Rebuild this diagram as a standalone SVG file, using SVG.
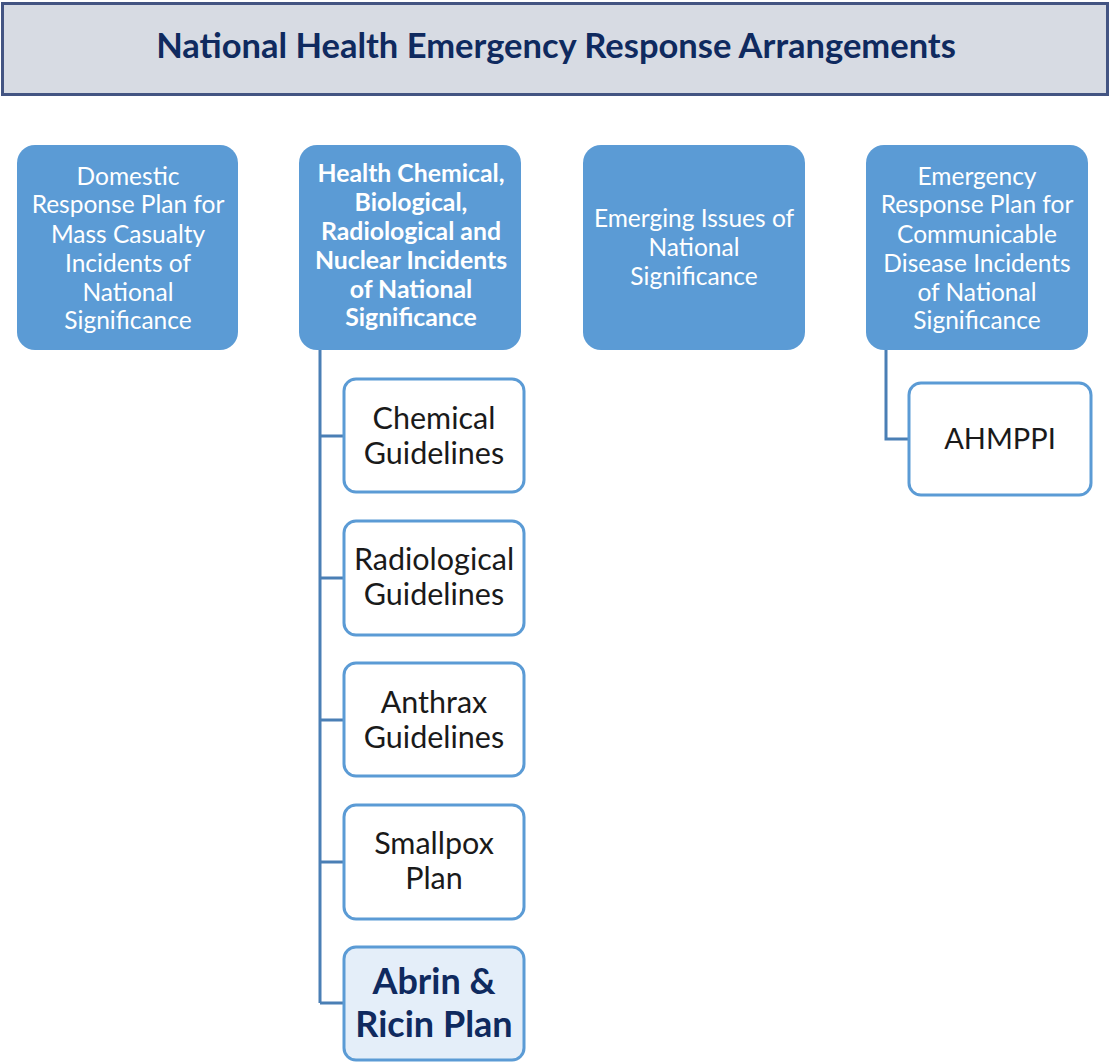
<svg xmlns="http://www.w3.org/2000/svg" width="1110" height="1062" viewBox="0 0 1110 1062">
  <style>
    .top { fill: #5b9bd5; }
    .topText { font-family: Lato, "Open Sans", sans-serif; font-size: 24.5px; fill: #ffffff; text-anchor: middle; }
    .bold { font-weight: bold; font-size: 24.8px; }
    .child { fill: #ffffff; stroke: #5b9bd5; stroke-width: 3; }
    .childText { font-family: Lato, "Open Sans", sans-serif; font-size: 30.5px; fill: #1a1a1a; text-anchor: middle; }
    .emph { font-size: 36px; font-weight: bold; fill: #0f2a5f; }
    .link { fill: none; stroke: #4a7fb5; stroke-width: 3; }
  </style>
  <rect width="1110" height="1062" fill="#ffffff"/>

  <g id="title">
    <rect x="2.5" y="3.5" width="1105" height="91" fill="#d7dbe3" stroke="#435482" stroke-width="3"/>
    <text x="556" y="58" font-family="Lato, 'Open Sans', sans-serif" font-size="34.5" font-weight="bold" fill="#0f2a5f" text-anchor="middle">National Health Emergency Response Arrangements</text>
  </g>

  <g id="connectors">
    <path class="link" d="M320,350 V1003 M320,436 H344 M320,578 H344 M320,720 H344 M320,862 H344 M320,1003 H344"/>
    <path class="link" d="M886,350 V439 H909"/>
  </g>

  <g id="domestic-plan">
    <rect class="top" x="17" y="145" width="221" height="205" rx="18"/>
    <text class="topText" x="128" y="185">Domestic</text>
    <text class="topText" x="128" y="213">Response Plan for</text>
    <text class="topText" x="128" y="243">Mass Casualty</text>
    <text class="topText" x="128" y="272">Incidents of</text>
    <text class="topText" x="128" y="301">National</text>
    <text class="topText" x="128" y="329">Significance</text>
  </g>

  <g id="cbrn-plan">
    <rect class="top" x="299" y="145" width="222" height="205" rx="18"/>
    <text class="topText bold" x="411" y="182">Health Chemical,</text>
    <text class="topText bold" x="411" y="211">Biological,</text>
    <text class="topText bold" x="411" y="240">Radiological and</text>
    <text class="topText bold" x="411" y="269">Nuclear Incidents</text>
    <text class="topText bold" x="411" y="298">of National</text>
    <text class="topText bold" x="411" y="326">Significance</text>
  </g>

  <g id="emerging-issues">
    <rect class="top" x="583" y="145" width="222" height="205" rx="18"/>
    <text class="topText" x="694" y="227">Emerging Issues of</text>
    <text class="topText" x="694" y="256">National</text>
    <text class="topText" x="694" y="285">Significance</text>
  </g>

  <g id="communicable-disease-plan">
    <rect class="top" x="866" y="145" width="222" height="205" rx="18"/>
    <text class="topText" x="977" y="185">Emergency</text>
    <text class="topText" x="977" y="213">Response Plan for</text>
    <text class="topText" x="977" y="243">Communicable</text>
    <text class="topText" x="977" y="272">Disease Incidents</text>
    <text class="topText" x="977" y="301">of National</text>
    <text class="topText" x="977" y="329">Significance</text>
  </g>

  <g id="chemical-guidelines">
    <rect class="child" x="344" y="379" width="180" height="113" rx="12"/>
    <text class="childText" x="434" y="429">Chemical</text>
    <text class="childText" x="434" y="464">Guidelines</text>
  </g>

  <g id="radiological-guidelines">
    <rect class="child" x="344" y="521" width="180" height="114" rx="12"/>
    <text class="childText" x="434" y="570">Radiological</text>
    <text class="childText" x="434" y="605">Guidelines</text>
  </g>

  <g id="anthrax-guidelines">
    <rect class="child" x="344" y="663" width="180" height="113" rx="12"/>
    <text class="childText" x="434" y="713">Anthrax</text>
    <text class="childText" x="434" y="748">Guidelines</text>
  </g>

  <g id="smallpox-plan">
    <rect class="child" x="344" y="805" width="180" height="114" rx="12"/>
    <text class="childText" x="434" y="854">Smallpox</text>
    <text class="childText" x="434" y="889">Plan</text>
  </g>

  <g id="abrin-ricin-plan">
    <rect class="child" x="344" y="947" width="180" height="113" rx="12" style="fill:#e4eef9"/>
    <text class="childText emph" x="434" y="994">Abrin &amp;</text>
    <text class="childText emph" x="434" y="1037">Ricin Plan</text>
  </g>

  <g id="ahmppi">
    <rect class="child" x="909" y="383" width="182" height="112" rx="12"/>
    <text class="childText" x="1000" y="449" style="font-size:29px">AHMPPI</text>
  </g>
</svg>
